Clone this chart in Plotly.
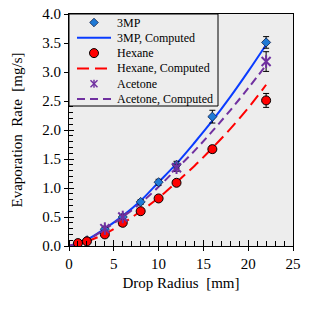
import plotly.graph_objects as go

# ---- data ----
radius_3mp = [1, 2, 4, 6, 8, 10, 12, 16, 22]
rate_3mp = [0.04, 0.10, 0.29, 0.50, 0.76, 1.10, 1.40, 2.23, 3.51]
err_3mp = [0.02, 0.02, 0.03, 0.03, 0.04, 0.05, 0.06, 0.11, 0.10]

radius_hex = [1, 2, 4, 6, 8, 10, 12, 16, 22]
rate_hex = [0.05, 0.08, 0.20, 0.40, 0.60, 0.82, 1.09, 1.67, 2.51]
err_hex = [0.02, 0.02, 0.03, 0.03, 0.04, 0.04, 0.05, 0.06, 0.12]

radius_ace = [4, 6, 12, 22]
rate_ace = [0.30, 0.50, 1.35, 3.18]
err_ace = [0.03, 0.04, 0.06, 0.17]

radius_comp = [0, 2, 4, 6, 8, 10, 12, 14, 16, 18, 20, 22]
comp_3mp = [0.0, 0.11, 0.30, 0.52, 0.78, 1.10, 1.42, 1.78, 2.16, 2.57, 3.01, 3.47]
comp_hex = [0.0, 0.08, 0.21, 0.39, 0.60, 0.83, 1.10, 1.38, 1.69, 2.02, 2.38, 2.78]
comp_ace = [0.0, 0.10, 0.29, 0.50, 0.74, 1.02, 1.33, 1.64, 1.98, 2.34, 2.72, 3.12]

x_ticks = [0, 5, 10, 15, 20, 25]
y_ticks = [0.0, 0.5, 1.0, 1.5, 2.0, 2.5, 3.0, 3.5, 4.0]

legend_names = ["3MP", "3MP, Computed", "Hexane", "Hexane, Computed",
                "Acetone", "Acetone, Computed"]

FONT = "Liberation Serif"
BLUE = "#0a3cff"
RED = "#ff0000"
PURPLE = "#7030a0"
DIAMOND = "#1f7ad6"
BG = "#ededed"

W, H = 315, 309
ML, MR, MT, MB = 69, 22, 14, 63
PW, PH = W - ML - MR, H - MT - MB

fig = go.Figure()

fig.add_trace(go.Scatter(
    x=radius_comp, y=comp_3mp, mode="lines", name=legend_names[1],
    line=dict(color=BLUE, width=2, shape="spline"),
))
fig.add_trace(go.Scatter(
    x=radius_comp, y=comp_hex, mode="lines", name=legend_names[3],
    line=dict(color=RED, width=2, dash="12px,6px", shape="spline"),
))
fig.add_trace(go.Scatter(
    x=radius_comp, y=comp_ace, mode="lines", name=legend_names[5],
    line=dict(color=PURPLE, width=2, dash="8px,5px", shape="spline"),
))
fig.add_trace(go.Scatter(
    x=radius_3mp, y=rate_3mp, mode="markers", name=legend_names[0],
    marker=dict(symbol="diamond", size=7, color=DIAMOND,
                line=dict(color="#10204a", width=0.8)),
    error_y=dict(type="data", array=err_3mp, color="black", thickness=1, width=3),
))
fig.add_trace(go.Scatter(
    x=radius_hex, y=rate_hex, mode="markers", name=legend_names[2],
    marker=dict(symbol="circle", size=9, color=RED,
                line=dict(color="black", width=1)),
    error_y=dict(type="data", array=err_hex, color="black", thickness=1, width=3),
))
fig.add_trace(go.Scatter(
    x=radius_ace, y=rate_ace, mode="markers", name=legend_names[4],
    marker=dict(symbol="x-thin-open", size=9, color=PURPLE,
                line=dict(color=PURPLE, width=2)),
    error_y=dict(type="data", array=err_ace, color="black", thickness=1, width=3),
))
fig.add_trace(go.Scatter(
    x=radius_ace, y=rate_ace, mode="markers", hoverinfo="skip",
    marker=dict(symbol="line-ns-open", size=9, color=PURPLE,
                line=dict(color=PURPLE, width=2)),
))
# invisible carrier so the overlay axes (crossing major ticks) get drawn
fig.add_trace(go.Scatter(
    x=radius_comp, y=comp_3mp, mode="lines", xaxis="x2", yaxis="y2",
    opacity=0, hoverinfo="skip", line=dict(width=0),
))


# ---- hand-drawn legend box (pixel -> paper conversion) ----
def px(xp):
    return (xp - ML) / PW


def py(yp):
    return 1 - (yp - MT) / PH


shapes = []
annotations = []
shapes.append(dict(type="rect", xref="paper", yref="paper",
                   x0=px(69), x1=px(218), y0=py(106), y1=py(14),
                   line=dict(color="black", width=1), fillcolor=BG, layer="above"))
row_y = [22.5, 37.8, 53.1, 68.4, 83.7, 99.0]
sx0, sx1, scx, tx = 77, 111, 94, 115
cy = row_y[0]
d = 4.3
shapes.append(dict(type="path", xref="paper", yref="paper",
                   path=f"M {px(scx)},{py(cy-d)} L {px(scx+d)},{py(cy)} L {px(scx)},{py(cy+d)} L {px(scx-d)},{py(cy)} Z",
                   fillcolor=DIAMOND, line=dict(color="#10204a", width=0.8), layer="above"))
for i, (col, dash) in zip([1, 3, 5], [(BLUE, "solid"), (RED, "12px,6px"), (PURPLE, "8px,5px")]):
    shapes.append(dict(type="line", xref="paper", yref="paper",
                       x0=px(sx0), x1=px(sx1), y0=py(row_y[i]), y1=py(row_y[i]),
                       line=dict(color=col, width=2, dash=dash), layer="above"))
cy = row_y[2]
r = 4.5
shapes.append(dict(type="circle", xref="paper", yref="paper",
                   x0=px(scx - r), x1=px(scx + r), y0=py(cy + r), y1=py(cy - r),
                   fillcolor=RED, line=dict(color="black", width=1), layer="above"))
cy = row_y[4]
a = 3.5
for (xa, ya, xb, yb) in [(-a, -a, a, a), (-a, a, a, -a), (0, -a - 0.5, 0, a + 0.5)]:
    shapes.append(dict(type="line", xref="paper", yref="paper",
                       x0=px(scx + xa), y0=py(cy + ya), x1=px(scx + xb), y1=py(cy + yb),
                       line=dict(color=PURPLE, width=1.5), layer="above"))
for name, yy in zip(legend_names, row_y):
    annotations.append(dict(text=name, xref="paper", yref="paper",
                            x=px(tx), y=py(yy), xanchor="left", yanchor="middle",
                            showarrow=False, font=dict(family=FONT, size=12, color="black")))

fig.update_layout(
    width=W, height=H,
    margin=dict(l=ML, r=MR, t=MT, b=MB),
    paper_bgcolor="white", plot_bgcolor=BG,
    font=dict(family=FONT, size=15, color="black"),
    showlegend=False,
    shapes=shapes,
    annotations=annotations,
    xaxis=dict(
        range=[0, 25], tickvals=x_ticks, ticktext=[str(v) for v in x_ticks],
        showgrid=False, zeroline=False, showline=True, linecolor="black",
        linewidth=1, mirror=True, ticks="outside", ticklen=4, tickcolor="black",
        minor=dict(dtick=1, ticks="inside", ticklen=5, tickcolor="black", showgrid=False),
        title=dict(text="Drop Radius  [mm]", font=dict(family=FONT, size=15), standoff=6),
        tickfont=dict(family=FONT, size=15), automargin=False,
    ),
    yaxis=dict(
        range=[0, 4], tickvals=y_ticks, ticktext=[f"{v:.1f}" for v in y_ticks],
        showgrid=False, zeroline=False, showline=True, linecolor="black",
        linewidth=1, mirror=True, ticks="outside", ticklen=4, tickcolor="black",
        minor=dict(dtick=0.1, ticks="inside", ticklen=4, tickcolor="black", showgrid=False),
        title=dict(text="Evaporation  Rate  [mg/s]", font=dict(family=FONT, size=15), standoff=16),
        tickfont=dict(family=FONT, size=15), automargin=False,
    ),
    xaxis2=dict(
        overlaying="x", range=[0, 25], tickvals=x_ticks, showticklabels=False,
        ticks="inside", ticklen=6, tickcolor="black", showgrid=False,
        zeroline=False, showline=False, automargin=False,
    ),
    yaxis2=dict(
        overlaying="y", range=[0, 4], tickvals=y_ticks, showticklabels=False,
        ticks="inside", ticklen=5, tickcolor="black", showgrid=False,
        zeroline=False, showline=False, automargin=False,
    ),
)

fig.write_html("out.html",
               config={"displayModeBar": False, "staticPlot": True},
               post_script="document.body.style.margin='0px';document.body.style.padding='0px';")
